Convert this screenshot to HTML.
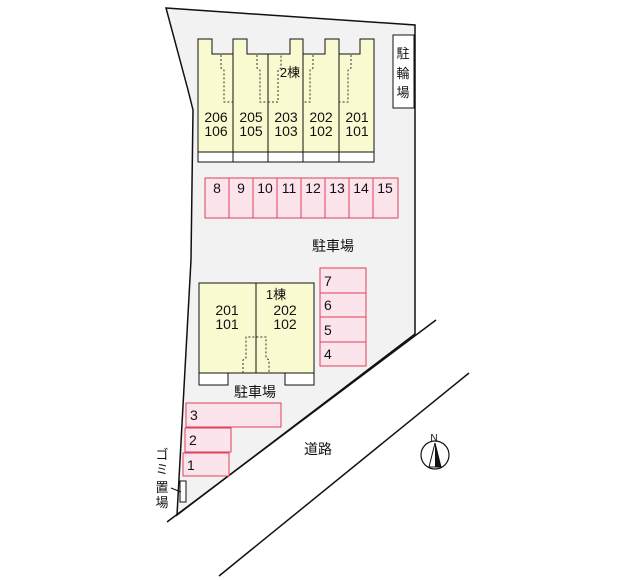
<!DOCTYPE html>
<html><head><style>body{margin:0;background:#fff}svg{display:block}text{font-family:"Liberation Sans","Noto Sans CJK JP",sans-serif;fill:#111}</style></head><body>
<svg width="643" height="580" viewBox="0 0 643 580">
<polygon points="166,8 415,25 415,334 177,515 191,260 193,110 188,90" fill="#f2f2f2" stroke="#111" stroke-width="1.5"/>
<line x1="167" y1="522" x2="436" y2="320" stroke="#111" stroke-width="1.5"/>
<line x1="219" y1="576" x2="469" y2="373" stroke="#111" stroke-width="1.5"/>
<!-- building 2 -->
<path d="M198,39 H212 V54 H233 V39 H247 V54 H290 V39 H303 V54 H325 V39 H339 V54 H360 V39 H374 V152 H198 Z" fill="#fafad0" stroke="#111"/>
<rect x="198" y="152" width="176" height="10" fill="#fff" stroke="#111"/>
<g stroke="#111"><line x1="233" y1="39" x2="233" y2="162"/><line x1="268" y1="54" x2="268" y2="162"/><line x1="303" y1="54" x2="303" y2="162"/><line x1="339" y1="54" x2="339" y2="162"/></g>
<g fill="none" stroke="#333" stroke-dasharray="2,2"><path d="M221,55 V68 L224,70 V102 H233"/><path d="M257,55 V68 L260,70 V102 H268 M268,102 H278 V70 L281,68 V55"/><path d="M313,55 V68 L310,70 V102 H303"/><path d="M351,55 V68 L348,70 V102 H339"/></g>
<g font-size="14" text-anchor="middle"><text x="216" y="122">206</text><text x="216" y="136">106</text><text x="251" y="122">205</text><text x="251" y="136">105</text><text x="286" y="122">203</text><text x="286" y="136">103</text><text x="321" y="122">202</text><text x="321" y="136">102</text><text x="357" y="122">201</text><text x="357" y="136">101</text></g>
<text x="290" y="77" font-size="13" text-anchor="middle">2棟</text>
<rect x="393" y="35" width="21" height="73" fill="#fff" stroke="#111"/>
<g font-size="13" text-anchor="middle"><text x="403" y="58">駐</text><text x="403" y="78">輪</text><text x="403" y="97">場</text></g>
<!-- parking 8-15 -->
<g fill="#fce4ec" stroke="#e0405a"><rect x="205" y="178" width="24" height="40"/><rect x="229" y="178" width="24" height="40"/><rect x="253" y="178" width="24" height="40"/><rect x="277" y="178" width="24" height="40"/><rect x="301" y="178" width="24" height="40"/><rect x="325" y="178" width="24" height="40"/><rect x="349" y="178" width="24" height="40"/><rect x="373" y="178" width="25" height="40"/></g>
<g font-size="14" text-anchor="middle"><text x="217" y="193">8</text><text x="241" y="193">9</text><text x="265" y="193">10</text><text x="289" y="193">11</text><text x="313" y="193">12</text><text x="337" y="193">13</text><text x="361" y="193">14</text><text x="385" y="193">15</text></g>
<text x="333" y="251" font-size="14" text-anchor="middle">駐車場</text>
<!-- building 1 -->
<rect x="199" y="283" width="115" height="90" fill="#fafad0" stroke="#111"/>
<line x1="256" y1="283" x2="256" y2="373" stroke="#111"/>
<path d="M243,373 V360 L246,358 V337 H266 V358 L269,360 V373" fill="none" stroke="#333" stroke-dasharray="2,2"/>
<rect x="199" y="373" width="29" height="12" fill="#fff" stroke="#111"/><rect x="285" y="373" width="29" height="12" fill="#fff" stroke="#111"/>
<g font-size="14" text-anchor="middle"><text x="227" y="315">201</text><text x="227" y="329">101</text><text x="285" y="315">202</text><text x="285" y="329">102</text></g>
<text x="276" y="299" font-size="13" text-anchor="middle">1棟</text>
<g fill="#fce4ec" stroke="#e0405a"><rect x="320" y="268" width="46" height="25"/><rect x="320" y="293" width="46" height="24"/><rect x="320" y="317" width="46" height="25"/><rect x="320" y="342" width="46" height="24"/>
<rect x="186" y="403" width="95" height="24"/><rect x="185" y="428" width="46" height="24"/><rect x="183" y="453" width="46" height="23"/></g>
<g font-size="14"><text x="324" y="286">7</text><text x="324" y="310">6</text><text x="324" y="335">5</text><text x="324" y="359">4</text><text x="190" y="420">3</text><text x="189" y="445">2</text><text x="187" y="470">1</text></g>
<text x="255" y="397" font-size="14" text-anchor="middle">駐車場</text>
<rect x="180" y="481" width="6" height="21" fill="#fff" stroke="#111"/>
<line x1="171" y1="488" x2="181" y2="492" stroke="#111"/>
<g font-size="13" text-anchor="middle"><text x="162" y="459">ゴ</text><text x="162" y="474">ミ</text><text x="162" y="492">置</text><text x="162" y="507">場</text></g>
<text x="318" y="454" font-size="14" text-anchor="middle">道路</text>
<circle cx="435" cy="455" r="14" fill="#fff" stroke="#111" stroke-width="1.2"/>
<polygon points="435,443 429,467 441,467" fill="#fff" stroke="#111"/><polygon points="435,443 435,467 441,467" fill="#111"/>
<text x="434" y="441" font-size="10" text-anchor="middle">N</text>
</svg></body></html>
